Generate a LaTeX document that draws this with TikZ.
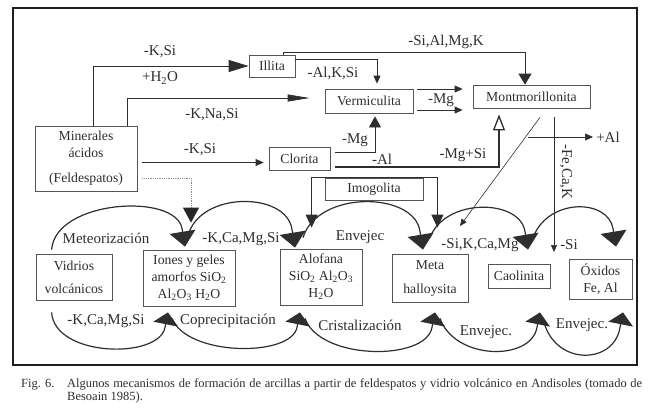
\documentclass[tikz,border=0pt]{standalone}
\usepackage{fontspec}
\setmainfont{Liberation Serif}
\usetikzlibrary{arrows.meta,calc}
\definecolor{ink}{HTML}{2E2E2E}
\definecolor{edge}{HTML}{555555}
\tikzset{
  box/.style={draw=edge, line width=0.8pt, inner sep=0pt, align=center, text=ink, font=\fontsize{13.7}{17}\selectfont},
  lab/.style={text=ink, inner sep=0pt, font=\fontsize{15}{17}\selectfont},
  con/.style={draw=ink, line width=0.8pt},
  thinln/.style={draw=ink, line width=0.6pt},
  cyc/.style={draw=ink, line width=1.2pt},
  captxt/.style={text=ink, inner sep=0pt, anchor=base west, font=\fontsize{12.5}{14}\selectfont},
  SmallT/.tip={Triangle[length=8pt,width=7pt]},
  MidT/.tip={Triangle[length=11pt,width=13pt]},
  DownT/.tip={Triangle[length=15pt,width=26pt]},
  UpT/.tip={Triangle[length=12pt,width=25pt]},
  LegT/.tip={Triangle[length=13pt,width=12pt]}
}
\begin{document}
\begin{tikzpicture}[x=1pt,y=-1pt]
\useasboundingbox (0,0) rectangle (648,410);
\draw[line width=2.8pt, draw=black!88] (13,8) rectangle (637,365);

% boxes
\node[box, minimum width=102pt, minimum height=65pt] (mine) at (86,158.5) {Minerales\\ácidos\\[8pt](Feldespatos)};
\node[box, minimum width=46pt, minimum height=22pt] (illita) at (272,66) {Illita};
\node[box, minimum width=88pt, minimum height=24pt] (verm) at (369,101) {Vermiculita};
\node[box, minimum width=117pt, minimum height=23pt] (mont) at (531.5,96.5) {Montmorillonita};
\node[box, minimum width=61pt, minimum height=23pt] (clor) at (299.5,158.5) {Clorita};
\node[box, minimum width=98pt, minimum height=22pt] (imog) at (374,189) {Imogolita};
\node[box, minimum width=76pt, minimum height=46pt] (vidr) at (74,277) {Vidrios\\[6pt]volcánicos};
\node[box, minimum width=92pt, minimum height=56pt] (iones) at (189,278) {Iones y geles\\amorfos SiO\textsubscript{2}\\Al\textsubscript{2}O\textsubscript{3} H\textsubscript{2}O};
\node[box, minimum width=82pt, minimum height=56pt] (alof) at (321,277) {Alofana\\SiO\textsubscript{2} Al\textsubscript{2}O\textsubscript{3}\\H\textsubscript{2}O};
\node[box, minimum width=76pt, minimum height=48pt] (meta) at (430,278) {Meta\\[7pt]halloysita};
\node[box, minimum width=62pt, minimum height=24pt] (caol) at (519,276) {Caolinita};
\node[box, minimum width=63pt, minimum height=40pt] (oxid) at (600.5,279) {Óxidos\\Fe, Al};

% Minerales -> Illita
\draw[con, -{Triangle[length=20pt,width=12pt]}] ([xshift=7pt]mine.north) |- (illita.west);
\node[lab] at (160,52) {-K,Si};
\node[lab] at (160,78) {+H\textsubscript{2}O};

% Minerales -> Vermiculita
\coordinate (vm) at ($(verm.west)+(-15,-3)$);
\draw[con, -{Triangle[length=22pt,width=7pt]}] ([xshift=41pt]mine.north) |- (vm);
\node[lab] at (212,115) {-K,Na,Si};

% Minerales -> Clorita
\draw[con, -SmallT] ([xshift=5pt,yshift=-4pt]mine.east) -- ([xshift=-5pt,yshift=-4pt]clor.west);
\node[lab] at (200,150) {-K,Si};

% Minerales -> Iones (dotted)
\draw[draw=black!45, line width=0.8pt, densely dotted, -{Triangle[length=15pt,width=16pt,color=black!85]}] ([xshift=5pt,yshift=-19.5pt]mine.east) -| ([xshift=2pt,yshift=27pt]iones.north);

% Illita -> Montmorillonita
\draw[con, -MidT] ([xshift=11pt]illita.north) -- ++(0,-2) -| ([xshift=-6.5pt]mont.north);
\node[lab] at (446,42) {-Si,Al,Mg,K};

% Illita -> Vermiculita
\draw[con, -SmallT, shorten >=5pt] ([yshift=7pt]illita.east) -| ([xshift=8pt]verm.north);
\node[lab] at (333,73) {-Al,K,Si};

% Vermiculita -> Montmorillonita
\coordinate (v1) at ($(verm.east)+(4,-12)$);
\coordinate (v2) at ($(verm.east)+(4,9)$);
\draw[con, -SmallT, shorten >=10pt] (v1) -- (v1 -| mont.west);
\draw[con, -SmallT, shorten >=10pt] (v2) -- (v2 -| mont.west);
\node[lab] at (441,100) {-Mg};

% Clorita -> Vermiculita
\draw[con, -{Triangle[length=11pt,width=12pt]}, shorten >=3pt] ([xshift=5pt,yshift=6.5pt]clor.east) -| ([xshift=6pt]verm.south);
\node[lab] at (355,140) {-Mg};

% Clorita -> Montmorillonita (open head)
\draw[con, line width=1.3pt, -{Triangle[open,length=16pt,width=12pt,fill=white]}, shorten >=6pt] ([xshift=5pt,yshift=-8.5pt]clor.east) -| ([xshift=-32.5pt]mont.south);
\node[lab] at (382,159) {-Al};
\node[lab] at (463,155) {-Mg+Si};

% Imogolita
\draw[con, LegT-LegT] ($(imog.north west)+(-13,50)$) |- (imog.north) -| ($(imog.north east)+(14,50)$);

% Montmorillonita diagonal and vertical
\coordinate (dg) at (460,226);
\draw[thinln, -{Triangle[length=7pt,width=6pt]}] ([xshift=8.5pt,yshift=-9pt]mont.south) -- (dg);
\coordinate (fe) at (554,252);
\draw[thinln, -{Triangle[length=7pt,width=6pt]}] ([xshift=22.5pt,yshift=-9pt]mont.south) -- (fe);
\node[lab, rotate=-90] at (566,172) {-Fe,Ca,K};
\coordinate (al0) at (528,137);
\coordinate (al1) at (593,137);
\draw[thinln, -SmallT] (al0) -- (al1);
\node[lab] at (608,137) {+Al};
\node[lab] at (569,245) {-Si};

% cycle: top arcs
\coordinate (S0) at ($(vidr.north west)+(16,-4)$);
\coordinate (T1) at ($(iones.north)+(-4,-3)$);
\coordinate (T2) at ($(alof.north)+(-26,-1)$);
\coordinate (T3) at ($(meta.north)+(-7,-4)$);
\coordinate (T4) at ($(caol.north)+(9,-14)$);
\coordinate (T5) at ($(oxid.north)+(15.5,-12)$);
\foreach \i in {1,...,5} {\coordinate (E\i) at ($(T\i)+(-3,-18)$);}
\coordinate (S1) at ($(T1)+(3,-11)$);
\coordinate (S2) at ($(T2)+(8,-10)$);
\coordinate (S3) at ($(T3)+(7,-12)$);
\coordinate (S4) at ($(T4)+(5,-12)$);
\draw[cyc, -DownT] (S0) .. controls +(4,-50) and +(-6,-36) .. (E1) -- (T1);
\draw[cyc, -DownT] (S1) .. controls +(12,-45) and +(-5,-38) .. (E2) -- (T2);
\draw[cyc, -DownT] (S2) .. controls +(15,-48) and +(-5,-40) .. (E3) -- (T3);
\draw[cyc, -DownT] (S3) .. controls +(15,-40) and +(-5,-33) .. (E4) -- (T4);
\draw[cyc, -DownT] (S4) .. controls +(15,-40) and +(-5,-30) .. (E5) -- (T5);
\node[lab] at (106,238) {Meteorización};
\node[lab] at (241,239) {-K,Ca,Mg,Si};
\node[lab] at (360,237) {Envejec};
\node[lab] at (480,245) {-Si,K,Ca,Mg};

% cycle: bottom arcs
\coordinate (B0) at ($(vidr.south west)+(16,12)$);
\coordinate (U1) at ($(iones.south)+(-21,6)$);
\coordinate (U2) at ($(alof.south)+(-21,7)$);
\coordinate (U3) at ($(meta.south)+(5,10)$);
\coordinate (U4) at ($(caol.south)+(21,24)$);
\coordinate (U5) at ($(oxid.south)+(22.5,13)$);
\foreach \i in {1,...,5} {\coordinate (F\i) at ($(U\i)+(-3,15)$);}
\coordinate (R1) at ($(U1)+(4,6)$);
\coordinate (R2) at ($(U2)+(5,6)$);
\coordinate (R3) at ($(U3)+(5,6)$);
\coordinate (R4) at ($(U4)+(3,6)$);
\draw[cyc, -UpT] (B0) .. controls +(3,45) and +(-6,32) .. (F1) -- (U1);
\draw[cyc, -UpT] (R1) .. controls +(15,38) and +(-6,30) .. (F2) -- (U2);
\draw[cyc, -UpT] (R2) .. controls +(15,42) and +(-6,34) .. (F3) -- (U3);
\draw[cyc, -UpT] (R3) .. controls +(15,42) and +(-6,34) .. (F4) -- (U4);
\draw[cyc, -UpT] (R4) .. controls +(10,48) and +(-6,38) .. (F5) -- (U5);
\node[lab] at (106,321) {-K,Ca,Mg,Si};
\node[lab] at (228,321) {Coprecipitación};
\node[lab] at (360,325) {Cristalización};
\node[lab] at (486,332) {Envejec.};
\node[lab] at (582,325) {Envejec.};

% caption
\node[captxt] at (21,387) {Fig. 6.};
\node[captxt] at (67,387) {\makebox[575pt][s]{Algunos mecanismos de formación de arcillas a partir de feldespatos y vidrio volcánico en Andisoles (tomado de}};
\node[captxt] at (67,400) {Besoain 1985).};
\end{tikzpicture}
\end{document}
